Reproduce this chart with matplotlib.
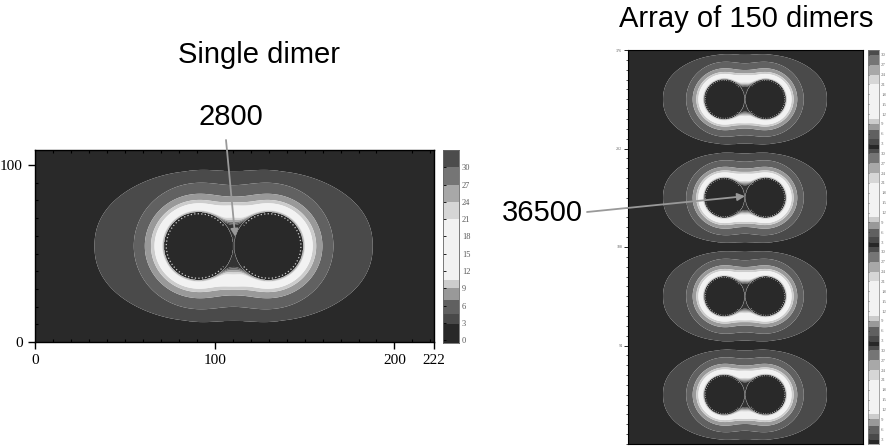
import numpy as np
import matplotlib
matplotlib.use("Agg")
import matplotlib.pyplot as plt
from matplotlib.colors import ListedColormap, BoundaryNorm
from matplotlib.patches import Arc

# ---------------- data / model parameters ----------------
x_limits = [0, 222]
y_limits_single = [0, 108.5]
x_ticks_major = [0, 100, 200, 222]
x_tick_labels = ["0", "100", "200", "222"]
y_ticks_major = [0, 100]
y_tick_labels = ["0", "100"]

dimer_center_single = [110.5, 54.25]
sphere_offsets = [-19.5, 19.5]          # sphere centres relative to dimer centre
sphere_radius = 19.3

array_period = 94.0
array_cells = 4
array_tick_labels = ["94", "188", "282", "376"]

# near-field model
amp_main = 15.0
decay_len = 0.72
perp_weight = 0.96
rim_amp = 15.0
rim_len = 0.06
combine_power = 2.5
gap_amp = 40.0
gap_sigma = [6.0, 9.0]
# outer envelope (superellipse)
env_a = 77.4
env_b = 45.0
env_n = 2.2
env_dip = 0.06
env_dip_w = 25.0
env_level = 2.7
env_slope = 1.7

# colour levels
level_bounds = [-1, 2.7, 4.5, 7, 9, 10.5, 21, 24, 27, 30, 33, 1e6]
level_grays = [0.16, 0.29, 0.38, 0.60, 0.80, 0.95, 0.84, 0.66, 0.46, 0.30, 0.20]
cbar_ticks = [0, 3, 6, 9, 12, 15, 18, 21, 24, 27, 30]
cbar_range = [-0.5, 33]
seg_range = [1.5, 31.5]

annot_single = "2800"
annot_array = "36500"
title_single = "Single dimer"
title_array = "Array of 150 dimers"

# ---------------- model ----------------
def dimer_field(X, Y, xc, yc):
    R = sphere_radius
    parts = []
    inside = np.zeros_like(X, dtype=bool)
    for off in sphere_offsets:
        dx = X - (xc + off)
        dy = Y - yc
        r = np.hypot(dx, dy)
        u = r / R
        inside |= u < 1.0
        uc = np.clip(u, 1.0, None)
        cos2 = dx ** 2 / (r ** 2 + 1e-9)
        w = perp_weight + (1 - perp_weight) * cos2
        m = amp_main * w * np.exp(-(uc - 1) / decay_len) + rim_amp * np.exp(-(uc - 1) / rim_len)
        parts.append(m)
    M = (parts[0] ** combine_power + parts[1] ** combine_power) ** (1.0 / combine_power)
    M = M + gap_amp * np.exp(-0.5 * ((X - xc) / gap_sigma[0]) ** 2 - 0.5 * ((Y - yc) / gap_sigma[1]) ** 2)
    bX = env_b * (1 - env_dip * np.exp(-((X - xc) / env_dip_w) ** 2))
    e = (np.abs(X - xc) / env_a) ** env_n + (np.abs(Y - yc) / bX) ** env_n
    e = e ** (1.0 / env_n)
    Q = env_level + env_slope * (1 - e)
    F = np.maximum(M, Q)
    F[inside] = 0.0
    return F

cmap = ListedColormap([str(g) for g in level_grays])
norm = BoundaryNorm(level_bounds, cmap.N)
colors = [str(g) for g in level_grays]

plt.rcParams["font.family"] = ["Liberation Sans", "DejaVu Sans"]
fig = plt.figure(figsize=(8.94, 4.47), dpi=100)
W, H = 894.0, 447.0

def px_axes(l, t, r, b):
    return fig.add_axes([l / W, 1 - b / H, (r - l) / W, (b - t) / H])

serif = ["Liberation Serif", "DejaVu Serif"]

# ---------------- single dimer ----------------
ax1 = px_axes(35, 150, 434, 342)
xs = np.linspace(x_limits[0], x_limits[1], 900)
ys = np.linspace(y_limits_single[0], y_limits_single[1], 450)
X, Y = np.meshgrid(xs, ys)
F1 = dimer_field(X, Y, *dimer_center_single)
ax1.contourf(X, Y, F1, levels=level_bounds, colors=colors, antialiased=True)
ax1.set_xlim(x_limits)
ax1.set_ylim(y_limits_single)
for off, (t1, t2) in zip(sphere_offsets, [(40, 320), (-140, 140)]):
    ax1.add_patch(Arc((dimer_center_single[0] + off, dimer_center_single[1]),
                      2 * sphere_radius * 0.93, 2 * sphere_radius * 0.93 * 1.797 / 1.77,
                      theta1=t1, theta2=t2, color="0.8", lw=0.9, ls=(0, (1, 1.8))))
ax1.set_xticks(x_ticks_major)
ax1.set_xticklabels(x_tick_labels, family=serif, fontsize=11)
ax1.set_xticks(np.arange(0, 222, 10), minor=True)
ax1.set_yticks(y_ticks_major)
ax1.set_yticklabels(y_tick_labels, family=serif, fontsize=11)
ax1.set_yticks(np.arange(0, 108, 10), minor=True)
ax1.tick_params(which="major", direction="out", length=5, width=1, pad=4)
ax1.tick_params(which="minor", direction="out", length=2.5, width=0.8)
ax1.tick_params(top=True, which="minor", direction="in")
for s in ax1.spines.values():
    s.set_linewidth(1.0)

# left colorbar
cax1 = px_axes(443, 150, 459, 343)
vals = np.linspace(cbar_range[0], cbar_range[1], 600).reshape(-1, 1)
cax1.imshow(vals, cmap=cmap, norm=norm, origin="lower", aspect="auto",
            extent=[0, 1, cbar_range[0], cbar_range[1]], interpolation="nearest")
cax1.set_ylim(cbar_range)
cax1.set_xticks([])
cax1.yaxis.tick_right()
cax1.set_yticks(cbar_ticks)
cax1.set_yticklabels([str(t) for t in cbar_ticks], family=serif, fontsize=6, color="0.35")
cax1.tick_params(axis="y", direction="in", length=2, width=0.6, pad=2, left=True, right=False)
for s in cax1.spines.values():
    s.set_linewidth(0.6)
    s.set_color("0.4")

# ---------------- array ----------------
ax2 = px_axes(628, 50, 863, 444)
ytot = array_period * array_cells
xs2 = np.linspace(x_limits[0], x_limits[1], 500)
ys2 = np.linspace(0, ytot, 900)
X2, Y2 = np.meshgrid(xs2, ys2)
F2 = None
for k in range(array_cells):
    fk = dimer_field(X2, Y2, dimer_center_single[0], array_period * (k + 0.5))
    F2 = fk if F2 is None else np.maximum(F2, fk)
ax2.contourf(X2, Y2, F2, levels=level_bounds, colors=colors, antialiased=True)
ax2.set_xlim(x_limits)
ax2.set_ylim(0, ytot)
sx = 235 / 222.0
sy = 394 / ytot
for k in range(array_cells):
    for off, (t1, t2) in zip(sphere_offsets, [(40, 320), (-140, 140)]):
        ax2.add_patch(Arc((dimer_center_single[0] + off, array_period * (k + 0.5)),
                          2 * sphere_radius * 0.93, 2 * sphere_radius * 0.93 * sx / sy,
                          theta1=t1, theta2=t2, color="0.75", lw=0.6, ls=(0, (1, 1.8))))
ax2.set_xticks([])
ax2.set_yticks([array_period * (k + 1) for k in range(array_cells)])
ax2.set_yticklabels(array_tick_labels, family=serif, fontsize=3, color="0.4")
ax2.set_yticks(np.arange(0, ytot, array_period / 10), minor=True)
ax2.tick_params(axis="y", which="major", direction="out", length=3, width=0.6, pad=1)
ax2.tick_params(axis="y", which="minor", direction="out", length=1.5, width=0.5)
for s in ax2.spines.values():
    s.set_linewidth(0.8)

# right colorbar (stacked segments)
cax2 = px_axes(868, 50, 879, 444)
seg_len = seg_range[1] - seg_range[0]
yy = np.linspace(0, seg_len * array_cells, 1200)
vv = (seg_range[0] + (yy % seg_len)).reshape(-1, 1)
cax2.imshow(vv, cmap=cmap, norm=norm, origin="lower", aspect="auto",
            extent=[0, 1, 0, seg_len * array_cells], interpolation="nearest")
cax2.set_ylim(0, seg_len * array_cells)
cax2.set_xticks([])
tpos, tlab = [], []
for k in range(array_cells):
    for t in cbar_ticks[1:]:
        tpos.append(k * seg_len + t - seg_range[0])
        tlab.append(str(t))
cax2.yaxis.tick_right()
cax2.set_yticks(tpos)
cax2.set_yticklabels(tlab, family=serif, fontsize=3.5, color="0.45")
cax2.tick_params(axis="y", direction="in", length=1, width=0.4, pad=1.5, left=True, right=False)
for s in cax2.spines.values():
    s.set_linewidth(0.5)
    s.set_color("0.5")

# ---------------- titles and annotations ----------------
fig.text(258.5 / W, 1 - 63 / H, title_single, ha="center", va="baseline", fontsize=21)
fig.text(746.5 / W, 1 - 27 / H, title_array, ha="center", va="baseline", fontsize=21)
fig.text(230.5 / W, 1 - 125 / H, annot_single, ha="center", va="baseline", fontsize=21)
fig.text(542 / W, 1 - 221 / H, annot_array, ha="center", va="baseline", fontsize=21)

arrow_kw = dict(arrowstyle="-|>", color="0.6", lw=1.3, mutation_scale=11, shrinkA=0, shrinkB=0)
ax1.annotate("", xy=(111.4, 59.5), xycoords="data",
             xytext=(226 / W, 1 - 140 / H), textcoords="figure fraction", arrowprops=arrow_kw,
             annotation_clip=False)
ax2.annotate("", xy=(110.5, array_period * 2.5 + 1.5), xycoords="data",
             xytext=(587 / W, 1 - 212 / H), textcoords="figure fraction", arrowprops=arrow_kw,
             annotation_clip=False)

fig.savefig("out.png", dpi=100)
